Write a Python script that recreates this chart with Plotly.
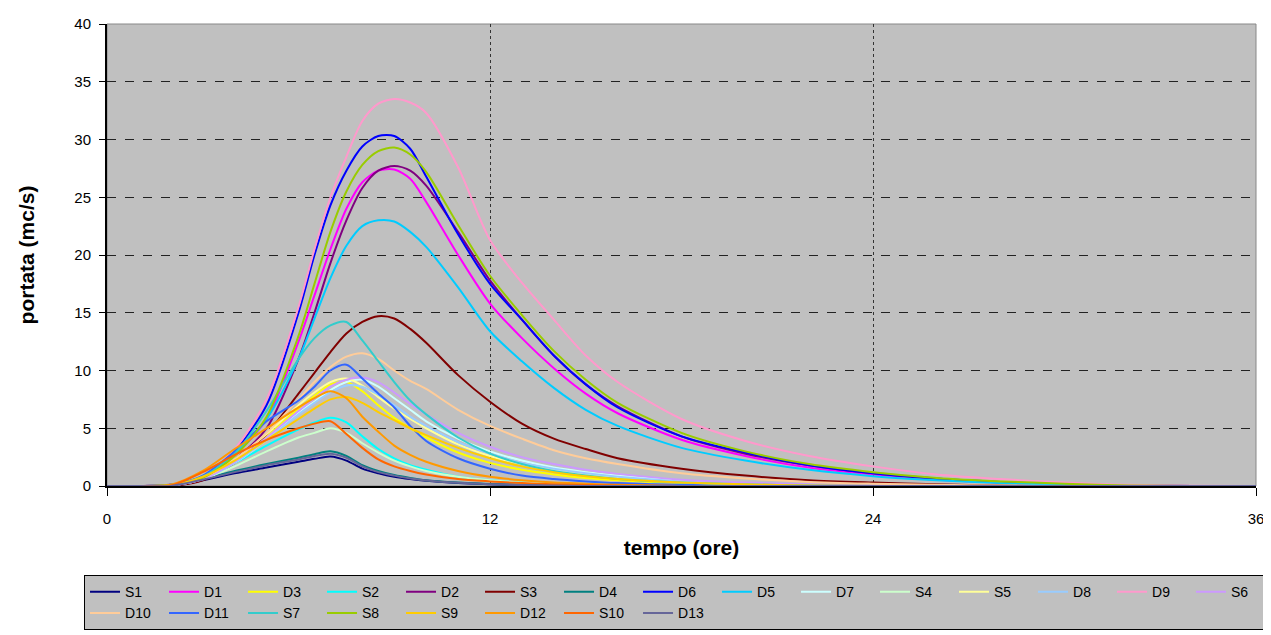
import plotly.graph_objects as go

# time (hours)
t = [0, 1, 2, 3, 4, 5, 6, 6.5, 7, 7.5, 8, 8.5, 9, 9.5, 10, 11, 12, 13, 14, 15, 16, 18, 20, 22, 24, 26, 28, 30, 32, 34, 36]

names = ["S1", "D1", "D3", "S2", "D2", "S3", "D4", "D6", "D5", "D7", "S4", "S5",
         "D8", "D9", "S6", "D10", "D11", "S7", "S8", "S9", "D12", "S10", "D13"]

colors = ["#000080", "#FF00FF", "#FFFF00", "#00FFFF", "#800080", "#800000", "#008080",
          "#0000FF", "#00CCFF", "#CCFFFF", "#CCFFCC", "#FFFF99", "#99CCFF", "#FF99CC",
          "#CC99FF", "#FFCC99", "#3366FF", "#33CCCC", "#99CC00", "#FFCC00", "#FF9900",
          "#FF6600", "#666699"]

S1 = [0, 0, 0, 0.5, 1.1, 1.6, 2.1, 2.35, 2.55, 2.2, 1.5, 1.1, 0.8, 0.6, 0.45, 0.25, 0.15, 0.08, 0.04, 0, 0, 0, 0, 0, 0, 0, 0, 0, 0, 0, 0]
D1 = [0, 0, 0.1, 0.7, 2.7, 5.8, 12.5, 16.5, 20.5, 24.0, 26.3, 27.3, 27.4, 26.6, 24.6, 20.0, 15.8, 12.8, 10.2, 8.0, 6.3, 4.0, 2.6, 1.6, 1.0, 0.55, 0.3, 0.1, 0.03, 0, 0]
D3 = [0, 0, 0.05, 0.7, 2.2, 4.3, 6.7, 7.8, 8.8, 9.0, 8.2, 7.0, 5.9, 5.0, 4.2, 2.9, 2.0, 1.4, 1.0, 0.7, 0.5, 0.25, 0.1, 0, 0, 0, 0, 0, 0, 0, 0]
S2 = [0, 0, 0.05, 0.8, 2.0, 3.5, 4.9, 5.5, 5.9, 5.5, 4.3, 3.2, 2.4, 1.8, 1.4, 0.8, 0.5, 0.3, 0.2, 0.1, 0.05, 0, 0, 0, 0, 0, 0, 0, 0, 0, 0]
D2 = [0, 0, 0.1, 0.6, 2.3, 5.0, 11.0, 15.0, 19.3, 23.0, 25.8, 27.3, 27.7, 27.3, 26.0, 22.0, 17.8, 14.4, 11.3, 8.8, 6.9, 4.3, 2.8, 1.8, 1.1, 0.6, 0.3, 0.1, 0.03, 0, 0]
S3 = [0, 0, 0, 0.5, 2.0, 4.5, 8.0, 9.8, 11.6, 13.2, 14.2, 14.7, 14.5, 13.6, 12.4, 9.6, 7.3, 5.4, 4.1, 3.2, 2.4, 1.5, 0.9, 0.5, 0.3, 0.15, 0.05, 0, 0, 0, 0]
D4 = [0, 0, 0, 0.6, 1.3, 1.9, 2.45, 2.75, 3.0, 2.6, 1.8, 1.3, 0.95, 0.7, 0.5, 0.3, 0.17, 0.1, 0.05, 0, 0, 0, 0, 0, 0, 0, 0, 0, 0, 0, 0]
D6 = [0, 0, 0.1, 0.8, 3.0, 7.0, 15.0, 20.0, 24.3, 27.3, 29.4, 30.3, 30.3, 29.2, 26.8, 21.8, 17.5, 14.4, 11.3, 8.8, 6.8, 4.3, 2.9, 1.8, 1.1, 0.65, 0.35, 0.15, 0.05, 0, 0]
D5 = [0, 0, 0.1, 0.8, 2.8, 5.8, 11.0, 14.5, 18.0, 20.8, 22.5, 23.0, 22.9, 22.0, 20.7, 17.2, 13.4, 10.8, 8.5, 6.6, 5.2, 3.3, 2.2, 1.4, 0.85, 0.5, 0.25, 0.1, 0.03, 0, 0]
D7 = [0, 0, 0.05, 0.6, 2.0, 4.0, 6.3, 7.3, 8.3, 9.0, 9.2, 8.6, 7.6, 6.6, 5.6, 4.1, 3.0, 2.2, 1.6, 1.2, 0.9, 0.45, 0.2, 0.1, 0, 0, 0, 0, 0, 0, 0]
S4 = [0, 0, 0.05, 0.6, 1.7, 3.0, 4.2, 4.6, 5.0, 4.6, 3.7, 2.9, 2.2, 1.7, 1.3, 0.8, 0.5, 0.3, 0.2, 0.1, 0.05, 0, 0, 0, 0, 0, 0, 0, 0, 0, 0]
S5 = [0, 0, 0.05, 0.7, 2.3, 4.5, 7.0, 8.1, 9.0, 9.3, 8.7, 7.7, 6.7, 5.8, 5.0, 3.6, 2.6, 1.9, 1.4, 1.0, 0.7, 0.35, 0.15, 0.05, 0, 0, 0, 0, 0, 0, 0]
D8 = [0, 0, 0.05, 0.6, 2.0, 4.0, 6.2, 7.2, 8.1, 8.7, 8.6, 7.9, 7.0, 6.0, 5.2, 3.8, 2.8, 2.0, 1.5, 1.1, 0.8, 0.4, 0.2, 0.1, 0, 0, 0, 0, 0, 0, 0]
D9 = [0, 0, 0.1, 0.8, 3.2, 7.5, 15.5, 20.5, 25.0, 28.5, 31.6, 33.1, 33.5, 33.2, 32.3, 27.6, 21.3, 17.6, 14.4, 11.3, 9.0, 5.8, 3.9, 2.6, 1.7, 1.0, 0.6, 0.3, 0.1, 0.03, 0]
S6 = [0, 0, 0.05, 0.6, 2.1, 4.2, 6.5, 7.6, 8.6, 9.2, 9.4, 9.0, 8.1, 7.1, 6.2, 4.6, 3.4, 2.5, 1.9, 1.4, 1.05, 0.55, 0.3, 0.15, 0.05, 0, 0, 0, 0, 0, 0]
D10 = [0, 0, 0.05, 0.7, 2.3, 4.6, 7.5, 9.0, 10.3, 11.2, 11.5, 11.0, 10.0, 9.1, 8.4, 6.6, 5.2, 4.1, 3.1, 2.4, 1.9, 1.1, 0.65, 0.35, 0.2, 0.1, 0.05, 0, 0, 0, 0]
D11 = [0, 0, 0.05, 0.9, 3.0, 5.6, 7.4, 8.6, 10.0, 10.5, 9.3, 8.0, 6.8, 5.2, 3.9, 2.4, 1.5, 0.9, 0.6, 0.4, 0.25, 0.1, 0, 0, 0, 0, 0, 0, 0, 0, 0]
S7 = [0, 0, 0.05, 0.8, 2.8, 6.5, 11.0, 12.8, 13.9, 14.2, 12.6, 10.8, 9.0, 7.4, 6.2, 4.2, 2.8, 1.9, 1.3, 0.9, 0.6, 0.3, 0.15, 0.05, 0, 0, 0, 0, 0, 0, 0]
S8 = [0, 0, 0.1, 0.7, 2.6, 6.0, 13.0, 17.5, 22.0, 25.5, 27.8, 29.0, 29.3, 28.7, 27.2, 22.6, 18.2, 14.8, 11.7, 9.2, 7.2, 4.6, 3.0, 1.9, 1.2, 0.7, 0.4, 0.2, 0.05, 0, 0]
S9 = [0, 0, 0.05, 0.8, 2.2, 4.0, 5.8, 6.7, 7.5, 7.7, 7.2, 6.4, 5.7, 5.0, 4.4, 3.3, 2.4, 1.7, 1.2, 0.85, 0.6, 0.3, 0.15, 0.05, 0, 0, 0, 0, 0, 0, 0]
D12 = [0, 0, 0.1, 1.3, 3.2, 5.0, 6.8, 7.6, 8.2, 7.6, 6.0, 4.7, 3.5, 2.7, 2.1, 1.3, 0.8, 0.5, 0.3, 0.2, 0.1, 0, 0, 0, 0, 0, 0, 0, 0, 0, 0]
S10 = [0, 0, 0.05, 1.2, 2.7, 4.0, 5.0, 5.4, 5.6, 4.5, 3.3, 2.3, 1.7, 1.3, 1.0, 0.6, 0.4, 0.25, 0.15, 0.08, 0.05, 0, 0, 0, 0, 0, 0, 0, 0, 0, 0]
D13 = [0, 0, 0, 0.55, 1.2, 1.8, 2.3, 2.6, 2.8, 2.45, 1.7, 1.2, 0.9, 0.65, 0.48, 0.28, 0.16, 0.09, 0.04, 0, 0, 0, 0, 0, 0, 0, 0, 0, 0, 0, 0]

series = [S1, D1, D3, S2, D2, S3, D4, D6, D5, D7, S4, S5, D8, D9, S6, D10, D11, S7, S8, S9, D12, S10, D13]

x_ticks = [0, 12, 24, 36]
y_ticks = [0, 5, 10, 15, 20, 25, 30, 35, 40]

FONT = "Liberation Sans, Arial, sans-serif"

fig = go.Figure()
for name, col, vals in zip(names, colors, series):
    fig.add_trace(go.Scatter(
        x=t, y=vals, name=name, mode="lines",
        line=dict(color=col, width=2, shape="spline", smoothing=0.8),
    ))

fig.update_layout(
    width=1263, height=627,
    paper_bgcolor="white",
    plot_bgcolor="#C0C0C0",
    margin=dict(l=99, r=15, t=16, b=149, autoexpand=False),
    font=dict(family=FONT, size=15, color="black"),
    showlegend=True,
    legend=dict(
        orientation="h", x=-0.02, y=-0.193, xanchor="left", yanchor="top",
        bgcolor="#C0C0C0", bordercolor="black", borderwidth=1,
        font=dict(family=FONT, size=14, color="black"),
        entrywidth=34, entrywidthmode="pixels",
        tracegroupgap=0, itemwidth=30,
    ),
    xaxis=dict(
        range=[0, 36], tickvals=x_ticks, ticktext=[str(v) for v in x_ticks],
        showgrid=True, gridcolor="#333333", griddash="dot", gridwidth=1,
        showline=True, linecolor="black", linewidth=2,
        ticks="outside", ticklen=8, tickcolor="black", zeroline=False,
        ticklabelstandoff=10,
        title=dict(text="<b>tempo (ore)</b>", font=dict(size=21, family=FONT), standoff=14),
        tickfont=dict(size=15),
        automargin=False,
    ),
    yaxis=dict(
        range=[0, 40], tickvals=y_ticks, ticktext=[str(v) for v in y_ticks],
        showgrid=True, gridcolor="#222222", griddash="dash", gridwidth=1,
        showline=True, linecolor="black", linewidth=2,
        ticks="outside", ticklen=6, tickcolor="black", zeroline=False,
        ticklabelstandoff=5,
        title=dict(text="<b>portata (mc/s)</b>", font=dict(size=21, family=FONT), standoff=34),
        tickfont=dict(size=15),
        automargin=False,
    ),
)

# light border on top/right of plot area
fig.add_shape(type="rect", xref="paper", yref="paper", x0=0, y0=0, x1=1, y1=1,
              line=dict(color="#888888", width=1), layer="below")

fig.write_html("out.html")
